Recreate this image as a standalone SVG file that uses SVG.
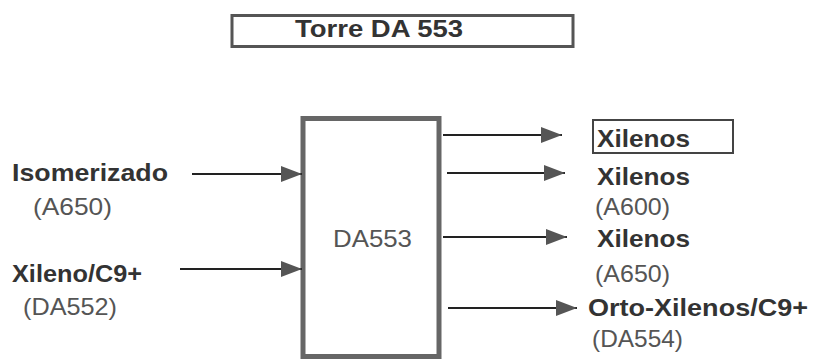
<svg xmlns="http://www.w3.org/2000/svg" width="813" height="359" viewBox="0 0 813 359">
  <style>
    text { font-family: "Liberation Sans", Arial, sans-serif; font-size: 24px; fill: #333; }
    .b { font-weight: bold; }
    .r { font-weight: normal; fill: #555; }
    .conn line { stroke: #222; stroke-width: 2; }
  </style>
  <defs>
    <marker id="ah" markerUnits="userSpaceOnUse" markerWidth="22" markerHeight="18" refX="21" refY="9" orient="auto">
      <path d="M0,1 L21,9 L0,17 Z" fill="#555"/>
    </marker>
  </defs>
  <rect width="813" height="359" fill="#fff"/>

  <g id="title">
    <rect x="232" y="15.5" width="341" height="31" fill="none" stroke="#555" stroke-width="3"/>
    <text class="b" x="295" y="37" textLength="168" lengthAdjust="spacingAndGlyphs">Torre DA 553</text>
  </g>

  <g id="in1">
    <text class="b" x="12" y="181" textLength="156" lengthAdjust="spacingAndGlyphs">Isomerizado</text>
    <text class="r" x="33" y="215" textLength="79" lengthAdjust="spacingAndGlyphs">(A650)</text>
  </g>
  <g id="in2">
    <text class="b" x="12" y="282" textLength="130" lengthAdjust="spacingAndGlyphs">Xileno/C9+</text>
    <text class="r" x="23" y="315" textLength="94" lengthAdjust="spacingAndGlyphs">(DA552)</text>
  </g>

  <g id="DA553">
    <rect x="303" y="118.5" width="136" height="238" fill="#fff" stroke="#666" stroke-width="5"/>
    <text class="r" x="333" y="247" textLength="79" lengthAdjust="spacingAndGlyphs">DA553</text>
  </g>

  <g id="out1">
    <rect x="593" y="120" width="140" height="33" fill="none" stroke="#444" stroke-width="2"/>
    <text class="b" x="597" y="147" textLength="93" lengthAdjust="spacingAndGlyphs">Xilenos</text>
  </g>
  <g id="out2">
    <text class="b" x="597" y="185" textLength="93" lengthAdjust="spacingAndGlyphs">Xilenos</text>
    <text class="r" x="595" y="215" textLength="75" lengthAdjust="spacingAndGlyphs">(A600)</text>
  </g>
  <g id="out3">
    <text class="b" x="597" y="247" textLength="93" lengthAdjust="spacingAndGlyphs">Xilenos</text>
    <text class="r" x="595" y="282" textLength="75" lengthAdjust="spacingAndGlyphs">(A650)</text>
  </g>
  <g id="out4">
    <text class="b" x="588" y="316" textLength="220" lengthAdjust="spacingAndGlyphs">Orto-Xilenos/C9+</text>
    <text class="r" x="592" y="347" textLength="91" lengthAdjust="spacingAndGlyphs">(DA554)</text>
  </g>

  <g class="conn" id="connectors">
    <line x1="192" y1="174" x2="302" y2="174" marker-end="url(#ah)"/>
    <line x1="180" y1="269" x2="302" y2="269" marker-end="url(#ah)"/>
    <line x1="443" y1="135" x2="562" y2="135" marker-end="url(#ah)"/>
    <line x1="447" y1="173" x2="565" y2="173" marker-end="url(#ah)"/>
    <line x1="443" y1="237" x2="567" y2="237" marker-end="url(#ah)"/>
    <line x1="448" y1="308" x2="577" y2="308" marker-end="url(#ah)"/>
  </g>
</svg>
